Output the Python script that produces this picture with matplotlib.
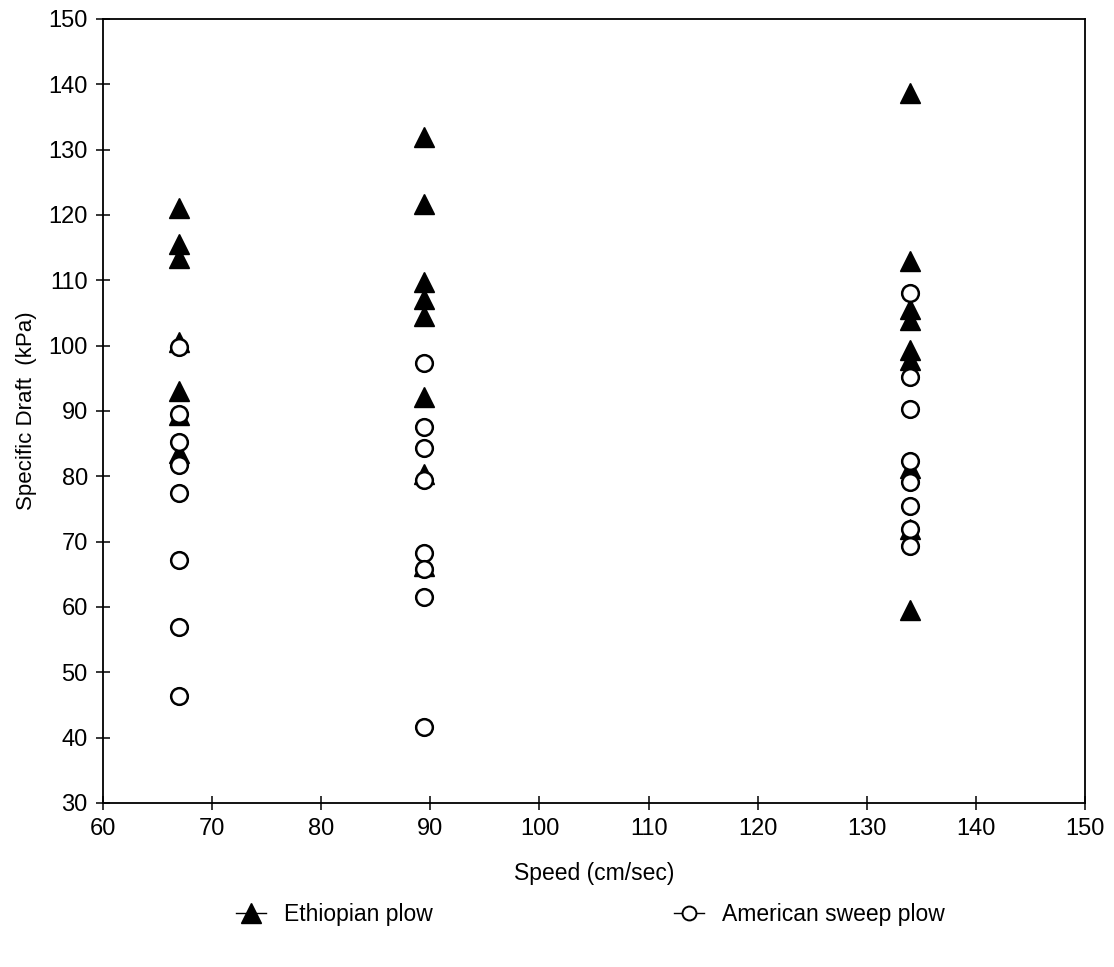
import matplotlib.pyplot as plt
from matplotlib.lines import Line2D

plt.rcParams['font.family'] = ['Liberation Sans', 'DejaVu Sans']

# speeds tested (cm/sec)
ethSpeed = [67] * 7 + [89.4] * 8 + [134] * 9
ethDraft = [121.0, 115.5, 113.4, 100.5, 93.0, 89.4, 83.6,
            131.9, 121.7, 109.8, 107.1, 104.5, 92.1, 80.4, 66.2,
            138.7, 112.9, 105.6, 104.0, 99.3, 97.8, 81.2, 72.0, 59.6]

amSpeed = [67] * 8 + [89.4] * 8 + [134] * 8
amDraft = [99.8, 89.5, 85.3, 81.8, 77.5, 67.2, 57.0, 46.3,
           97.4, 87.5, 84.4, 79.5, 68.2, 65.8, 61.5, 41.6,
           108.0, 95.2, 90.3, 82.4, 79.2, 75.4, 71.9, 69.3]

xTicks = list(range(60, 151, 10))
yTicks = list(range(30, 151, 10))

fig = plt.figure(figsize=(11.14, 9.67), dpi=100)
ax = fig.add_axes([0.0925, 0.1696, 0.8815, 0.8108])

ax.plot(ethSpeed, ethDraft, linestyle='none', marker='^', ms=15,
        color='black', zorder=2)
ax.plot(amSpeed, amDraft, linestyle='none', marker='o', ms=12,
        markerfacecolor='white', markeredgecolor='black', mew=1.8, zorder=3)

ax.set_xlim(60, 150)
ax.set_ylim(30, 150)
ax.set_xticks(xTicks)
ax.set_yticks(yTicks)
ax.tick_params(direction='inout', length=10, width=1.1, labelsize=17,
               pad=6, colors='black')
for s in ax.spines.values():
    s.set_linewidth(1.3)

ax.set_xlabel('Speed (cm/sec)', fontsize=16.5, labelpad=16)
ax.set_ylabel('Specific Draft  (kPa)', fontsize=16, labelpad=8)

handles = [
    Line2D([], [], color='black', lw=1, marker='^', ms=14),
    Line2D([], [], color='black', lw=1, marker='o', ms=10,
           markerfacecolor='white', mew=1.4),
]
fig.legend(handles, ['Ethiopian plow', 'American sweep plow'],
           loc='center', bbox_to_anchor=(0.53, 0.054), ncol=2,
           frameon=False, fontsize=16.5, handlelength=1.3,
           columnspacing=10.5, handletextpad=0.8)

fig.savefig('out.png', dpi=100)
